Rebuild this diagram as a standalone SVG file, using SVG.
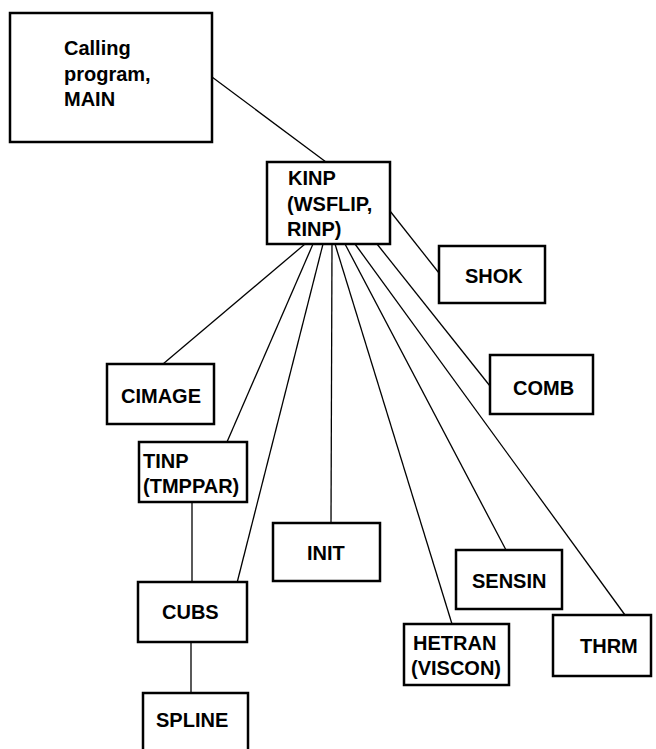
<svg xmlns="http://www.w3.org/2000/svg" width="656" height="749" viewBox="0 0 656 749">
<style>
.box{fill:#fff;stroke:#000;stroke-width:2.5}
.lbl{font-family:"Liberation Sans",Arial,sans-serif;font-weight:bold;font-size:20px;fill:#000}
.ln{stroke:#000;stroke-width:1.3;fill:none}
</style>
<rect width="656" height="749" fill="#fff"/>
<g id="connectors">
<line class="ln" x1="212" y1="77" x2="326" y2="162"/>
<line class="ln" x1="390" y1="211" x2="439" y2="273"/>
<line class="ln" x1="305" y1="244" x2="163" y2="364"/>
<line class="ln" x1="313" y1="244" x2="227" y2="442"/>
<line class="ln" x1="323" y1="244" x2="237" y2="583"/>
<line class="ln" x1="332" y1="244" x2="331" y2="523"/>
<line class="ln" x1="335" y1="244" x2="452" y2="624"/>
<line class="ln" x1="345" y1="244" x2="506" y2="550"/>
<line class="ln" x1="355" y1="244" x2="625" y2="615"/>
<line class="ln" x1="377" y1="244" x2="490" y2="386"/>
<line class="ln" x1="192" y1="502" x2="192" y2="583"/>
<line class="ln" x1="191" y1="642" x2="191" y2="693"/>
</g>
<g id="main"><rect class="box" x="10" y="13" width="202" height="129"/>
<text class="lbl" x="64" y="55">Calling</text><text class="lbl" x="64" y="80.5">program,</text><text class="lbl" x="64" y="106">MAIN</text></g>
<g id="kinp"><rect class="box" x="267" y="162" width="123" height="82"/>
<text class="lbl" x="288" y="185">KINP</text><text class="lbl" x="287" y="210.5">(WSFLIP,</text><text class="lbl" x="287" y="236">RINP)</text></g>
<g id="shok"><rect class="box" x="439" y="246" width="106" height="57"/><text class="lbl" x="465" y="283">SHOK</text></g>
<g id="comb"><rect class="box" x="490" y="355" width="103" height="59"/><text class="lbl" x="513" y="395">COMB</text></g>
<g id="cimage"><rect class="box" x="107" y="364" width="107" height="60"/><text class="lbl" x="121" y="403">CIMAGE</text></g>
<g id="tinp"><rect class="box" x="139" y="442" width="108" height="60"/>
<text class="lbl" x="143" y="468">TINP</text><text class="lbl" x="143" y="493">(TMPPAR)</text></g>
<g id="init"><rect class="box" x="273" y="523" width="107" height="58"/><text class="lbl" x="307" y="560">INIT</text></g>
<g id="sensin"><rect class="box" x="456" y="550" width="106" height="59"/><text class="lbl" x="472" y="588">SENSIN</text></g>
<g id="cubs"><rect class="box" x="138" y="582" width="109" height="60"/><text class="lbl" x="162" y="619">CUBS</text></g>
<g id="hetran"><rect class="box" x="404" y="624" width="105" height="61"/>
<text class="lbl" x="413" y="650">HETRAN</text><text class="lbl" x="411" y="675">(VISCON)</text></g>
<g id="thrm"><rect class="box" x="553" y="615" width="98" height="61"/><text class="lbl" x="580" y="653">THRM</text></g>
<g id="spline"><rect class="box" x="143" y="693" width="105" height="60"/><text class="lbl" x="156" y="727">SPLINE</text></g>
</svg>
